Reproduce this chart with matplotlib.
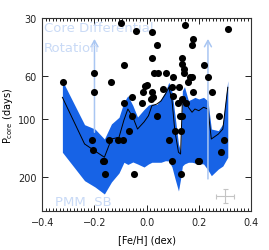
import numpy as np
import matplotlib
matplotlib.use("Agg")
import matplotlib.pyplot as plt
from matplotlib.ticker import FixedLocator, NullLocator, MultipleLocator, FixedFormatter

# ---- data ----
star_feh = [-0.322, -0.202, -0.200, -0.136, -0.099, -0.088, -0.086, -0.058, -0.058, -0.041,
            0.020, 0.039, 0.020, 0.029, 0.042, 0.076, 0.102, 0.001, -0.008, -0.013,
            0.021, 0.062, 0.098, 0.123, 0.015, 0.026, -0.019, 0.041, 0.101, 0.122,
            0.135, 0.152, 0.147, 0.178, 0.172, 0.313, 0.135, 0.134, 0.218, 0.145,
            0.145, 0.167, 0.172, 0.234, 0.159, 0.177, 0.249, 0.128, 0.137, 0.278,
            -0.210, -0.146, -0.108, -0.092, -0.069, -0.207, -0.169, -0.164, -0.158, -0.049,
            0.107, 0.131, 0.085, 0.296, 0.285, 0.096, 0.195, 0.201, 0.132]
star_p = [64.3, 57.8, 72.4, 64.3, 32.0, 52.5, 82.9, 77.3, 96.7, 34.9,
          35.3, 41.2, 48.2, 57.8, 57.8, 57.8, 60.9, 66.6, 67.7, 72.4,
          72.5, 69.9, 68.2, 68.2, 78.3, 77.3, 82.9, 96.7, 76.4, 82.9,
          79.2, 82.9, 32.8, 38.4, 41.3, 34.1, 48.1, 52.2, 52.5, 55.2,
          57.8, 60.9, 60.8, 60.4, 64.1, 72.4, 72.4, 96.6, 96.6, 96.7,
          128.8, 128.8, 128.8, 128.8, 115.7, 144.6, 165.3, 165.3, 193.5, 193.5,
          115.7, 115.7, 128.8, 128.8, 148.5, 165.6, 165.6, 165.6, 193.5]

model_feh = [-0.323, -0.238, -0.198, -0.162, -0.135, -0.106, -0.087, -0.072, -0.053, -0.035,
             -0.010, 0.007, 0.020, 0.039, 0.055, 0.072, 0.085, 0.097, 0.108, 0.122,
             0.130, 0.137, 0.145, 0.160, 0.174, 0.185, 0.200, 0.218, 0.235, 0.248,
             0.275, 0.292, 0.311]
model_p = [77.2, 134.5, 146.3, 157.6, 126.8, 124.2, 101.1, 88.7, 97.6, 112.6,
           103.5, 96.1, 85.3, 83.6, 80.6, 74.2, 68.6, 79.7, 114.8, 148.5,
           151.6, 80.3, 76.6, 86.9, 92.2, 88.7, 90.5, 86.9, 88.7, 126.8,
           119.5, 112.6, 68.5]
model_hi = [63.3, 106.9, 112.6, 126.8, 106.0, 97.9, 81.6, 75.7, 85.0, 97.6,
            89.2, 84.6, 83.6, 84.1, 78.7, 72.0, 64.5, 72.0, 94.1, 134.5,
            146.3, 71.3, 68.0, 80.3, 78.7, 77.2, 78.7, 77.2, 80.6, 112.6,
            114.8, 106.0, 63.3]
model_lo = [148.5, 208.3, 224.5, 244.1, 211.6, 190.1, 167.3, 171.7, 166.7, 170.7,
            177.0, 170.7, 167.3, 167.3, 167.3, 164.2, 164.7, 177.0, 201.7, 235.5,
            204.2, 174.9, 170.7, 167.3, 167.3, 168.7, 169.7, 170.7, 183.4, 196.3,
            181.2, 174.9, 157.6]

arrow_feh = [-0.200, 0.235]
arrow_from = [117.0, 204.0]
arrow_to = [38.5, 38.5]

err_feh, err_p = 0.300, 250.0
err_dfeh = 0.035
err_dp_lo, err_dp_hi = 20.0, 23.0

yticks = [30, 60, 100, 200]
ytick_labels = ["30", "60", "100", "200"]
xticks = [-0.4, -0.2, 0.0, 0.2, 0.4]

# ---- figure ----
fig = plt.figure(figsize=(2.69, 2.51), dpi=100)
ax = fig.add_axes([42.3/269, 1-212.3/251, (251-42.3)/269, (212.3-19)/251])

ax.set_yscale("log")
ax.set_xlim(-0.4, 0.4)
ax.set_ylim(300, 30)

band_col = "#1763e6"
ax.fill_between(model_feh, model_lo, model_hi, color=band_col, lw=0, zorder=1)
ax.plot(model_feh, model_p, color="black", lw=0.7, zorder=2)

light = "#a9c6f2"
for xf, y0, y1 in zip(arrow_feh, arrow_from, arrow_to):
    ax.annotate("", xy=(xf, y1), xytext=(xf, y0),
                arrowprops=dict(arrowstyle="->,head_length=0.45,head_width=0.25",
                                color=light, lw=1.1, shrinkA=0, shrinkB=0),
                zorder=3)

ax.scatter(star_feh, star_p, s=26, color="black", zorder=4, linewidths=0)

ax.errorbar([err_feh], [err_p], xerr=[[err_dfeh], [err_dfeh]],
            yerr=[[err_dp_lo], [err_dp_hi]], fmt="none", ecolor="#c4c4c4",
            elinewidth=0.8, capsize=1.8, capthick=0.8, zorder=3)

txt_col = "#c9daf6"
ax.text(44/269, 1-28.5/251, "Core Differential", transform=fig.transFigure,
        fontsize=9.5, color=txt_col, va="center", ha="left")
ax.text(44/269, 1-48.5/251, "Rotation", transform=fig.transFigure,
        fontsize=9.5, color=txt_col, va="center", ha="left")
ax.text(55/269, 1-203/251, "PMM  SB", transform=fig.transFigure,
        fontsize=9.5, color=txt_col, va="center", ha="left")

ax.yaxis.set_major_locator(FixedLocator(yticks))
ax.yaxis.set_major_formatter(FixedFormatter(ytick_labels))
ax.yaxis.set_minor_locator(NullLocator())
ax.xaxis.set_major_locator(FixedLocator(xticks))
ax.xaxis.set_minor_locator(MultipleLocator(0.2/15))
ax.set_xticklabels(["\u22120.4", "\u22120.2", "0.0", "0.2", "0.4"])

ax.tick_params(which="both", direction="in", top=True, right=True,
               labelsize=7, width=0.7, colors="#222222", pad=4)
ax.tick_params(which="major", length=4.5)
ax.tick_params(which="minor", length=2)
for sp in ax.spines.values():
    sp.set_linewidth(0.8)
    sp.set_color("#333333")

ax.set_xlabel("[Fe/H] (dex)", fontsize=7, labelpad=5)
ax.set_ylabel(r"P$_{\rm core}$ (days)", fontsize=7, labelpad=2)

fig.savefig("out.png", dpi=100)
